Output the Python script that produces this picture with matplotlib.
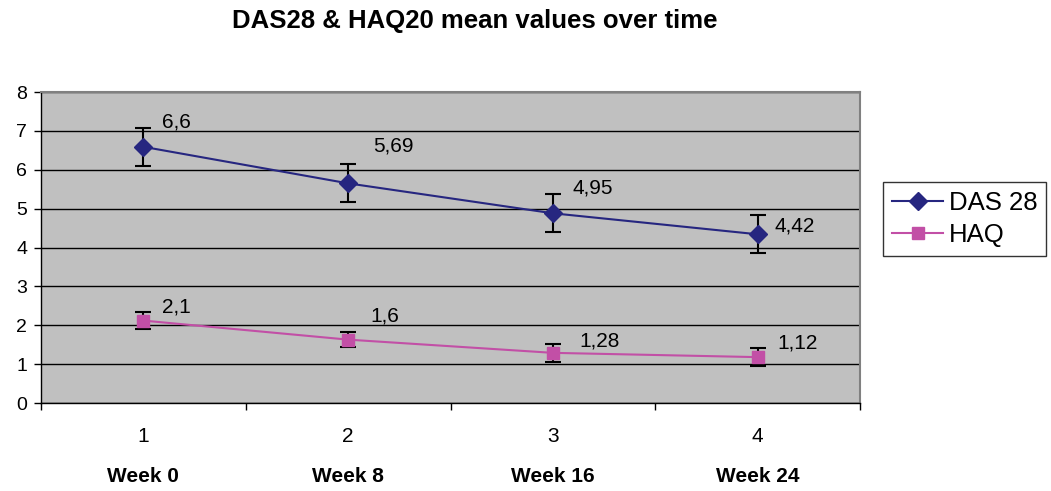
import matplotlib
matplotlib.use('Agg')
import matplotlib.pyplot as plt
import matplotlib.transforms as mtransforms
from matplotlib.lines import Line2D

plt.rcParams['font.family'] = ['Liberation Sans', 'DejaVu Sans']

# data
weeks = [1, 2, 3, 4]
week_labels = ['Week 0', 'Week 8', 'Week 16', 'Week 24']
das28 = [6.59, 5.65, 4.88, 4.34]
das28_err = [0.49, 0.49, 0.49, 0.49]
das28_text = ['6,6', '5,69', '4,95', '4,42']
haq = [2.12, 1.63, 1.29, 1.18]
haq_err = [0.22, 0.2, 0.23, 0.23]
haq_text = ['2,1', '1,6', '1,28', '1,12']

# label offsets in pixels (dx, dy)
das_off = [(19, 25), (25, 37), (20, 25), (17, 8)]
haq_off = [(19, 14), (22, 24), (26, 12), (20, 14)]

W, H = 1051, 491
fig = plt.figure(figsize=(W / 100, H / 100), dpi=100)
ax = fig.add_axes([41 / W, (H - 403) / H, 819 / W, 311 / H])
ax.set_facecolor('#c0c0c0')

navy = '#262680'
pink = '#c24fa6'

ax.errorbar(weeks, das28, yerr=das28_err, color=navy, marker='D', markersize=9,
            lw=1.5, ecolor='black', elinewidth=1.5, capsize=6, capthick=1.5,
            zorder=3)
ax.errorbar(weeks, haq, yerr=haq_err, color=pink, marker='s', markersize=9,
            lw=1.5, ecolor='black', elinewidth=1.5, capsize=6, capthick=1.5,
            zorder=3)

for x, y, t, o in zip(weeks, das28, das28_text, das_off):
    ax.annotate(t, (x, y), xytext=o, textcoords='offset pixels',
                ha='left', va='center', fontsize=15)
for x, y, t, o in zip(weeks, haq, haq_text, haq_off):
    ax.annotate(t, (x, y), xytext=o, textcoords='offset pixels',
                ha='left', va='center', fontsize=15)

ax.set_xlim(0.5, 4.5)
ax.set_ylim(0, 8)
ax.set_yticks(range(0, 9))
ax.yaxis.grid(True, color='black', lw=1)
ax.set_axisbelow(True)
ax.tick_params(axis='y', labelsize=14, length=5, width=1, pad=5)

# category boundaries get the ticks, numbers sit in between
ax.set_xticks([0.5, 1.5, 2.5, 3.5, 4.5])
ax.set_xticklabels([])
ax.set_xticks(weeks, minor=True)
ax.set_xticklabels([str(w) for w in weeks], minor=True)
ax.tick_params(axis='x', which='major', length=5, width=1)
ax.tick_params(axis='x', which='minor', length=0, labelsize=15, pad=17)

for s in ['top', 'right']:
    ax.spines[s].set_color('#808080')
    ax.spines[s].set_linewidth(1.5)
for s in ['left', 'bottom']:
    ax.spines[s].set_color('black')
    ax.spines[s].set_linewidth(1)

trans = mtransforms.blended_transform_factory(ax.transData, fig.transFigure)
for x, lab in zip(weeks, week_labels):
    ax.text(x, 1 - 476 / H, lab, transform=trans, ha='center', va='center',
            fontsize=15, fontweight='bold')

fig.text(475 / W, 1 - 21 / H, 'DAS28 & HAQ20 mean values over time',
         ha='center', va='center', fontsize=18.5, fontweight='bold')

# legend without error bars
handles = [Line2D([], [], color=navy, marker='D', markersize=9, lw=1.5),
           Line2D([], [], color=pink, marker='s', markersize=9, lw=1.5)]
leg = fig.legend(handles, ['DAS 28', 'HAQ'], loc='center left',
                 bbox_to_anchor=(883 / W, 1 - 219 / H), fontsize=18.5,
                 frameon=True, fancybox=False, edgecolor='black',
                 borderpad=0.35, handlelength=2.0, handletextpad=0.2,
                 labelspacing=0.3, borderaxespad=0)
leg.get_frame().set_linewidth(1)

fig.savefig('out.png', dpi=100)
